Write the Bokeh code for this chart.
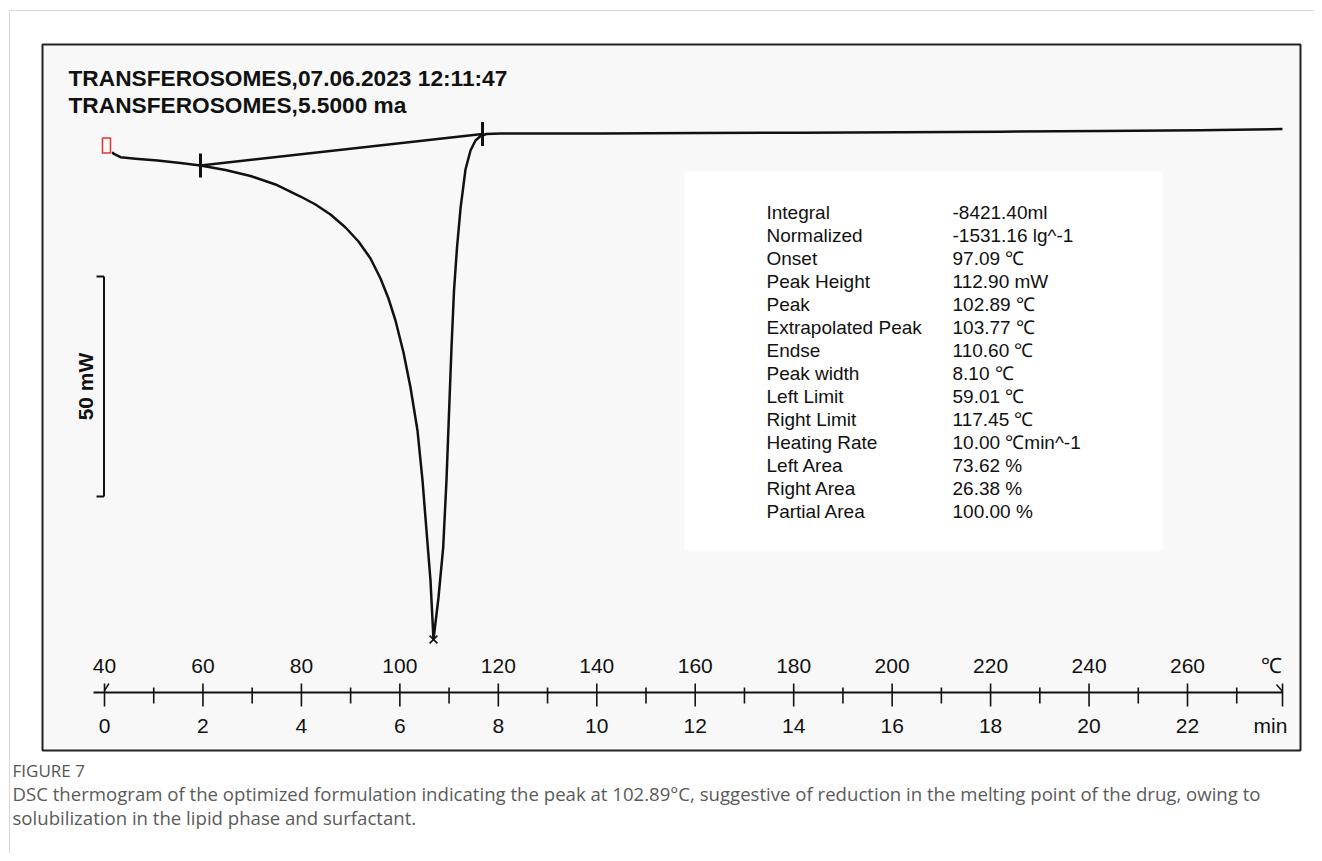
import math
from bokeh.plotting import figure
from bokeh.core.properties import value
from bokeh.embed import file_html
from bokeh.resources import INLINE

# ---------------- data ----------------
temp_c = [41.56, 41.83, 43.25, 46.30, 50.77, 55.44, 59.50, 64.58, 69.66, 74.74,
          79.82, 82.86, 85.91, 88.96, 91.60, 94.04, 96.07, 97.69, 99.11, 100.74,
          102.16, 103.58, 104.60, 105.41, 106.22, 106.83, 107.85, 108.80, 109.47, 109.98,
          110.49, 111.00, 111.61, 112.32, 113.33, 114.35, 115.37, 116.38, 117.60, 120.44,
          140.76, 161.07, 181.39, 201.70, 222.02, 242.33, 262.64, 279.30]
heat_flow_mw = [-4.25, -4.55, -5.39, -5.73, -6.14, -6.70, -7.27, -8.30, -9.66, -11.59,
                -14.32, -16.14, -18.41, -21.36, -24.55, -28.41, -32.95, -37.50, -42.50, -49.77,
                -57.73, -67.50, -78.86, -90.23, -101.59, -115.00, -105.45, -94.09, -78.86, -63.64,
                -48.64, -35.68, -25.91, -17.05, -8.18, -3.86, -1.59, -0.57, -0.11, 0.00,
                0.00, 0.11, 0.18, 0.27, 0.41, 0.57, 0.75, 1.02]

limit_temp_c = [59.50, 116.79]
limit_mw = [-7.27, -0.11]
peak_temp_c = [106.83]
peak_mw = [-115.00]
start_temp_c = [40.4]
start_mw = [-2.73]

scale_bar_mw = 50
scale_bar_top_mw = -32.5

major_ticks_c = [40, 60, 80, 100, 120, 140, 160, 180, 200, 220, 240, 260]
temp_labels = ["40", "60", "80", "100", "120", "140", "160", "180", "200", "220", "240", "260"]
minor_ticks_c = [50, 70, 90, 110, 130, 150, 170, 190, 210, 230, 250, 270]
time_labels = ["0", "2", "4", "6", "8", "10", "12", "14", "16", "18", "20", "22"]
axis_end_c = 279.3

title_lines = ["TRANSFEROSOMES,07.06.2023 12:11:47", "TRANSFEROSOMES,5.5000 ma"]
table_names = ["Integral", "Normalized", "Onset", "Peak Height", "Peak", "Extrapolated Peak",
               "Endse", "Peak width", "Left Limit", "Right Limit", "Heating Rate",
               "Left Area", "Right Area", "Partial Area"]
table_values = ["-8421.40ml", "-1531.16 lg^-1", "97.09 ℃", "112.90 mW", "102.89 ℃",
                "103.77 ℃", "110.60 ℃", "8.10 ℃", "59.01 ℃", "117.45 ℃",
                "10.00 ℃min^-1", "73.62 %", "26.38 %", "100.00 %"]
caption_head = "FIGURE 7"
caption_lines = ["DSC thermogram of the optimized formulation indicating the peak at 102.89°C, suggestive of reduction in the melting point of the drug, owing to",
                 "solubilization in the lipid phase and surfactant."]

# ---------------- layout helpers (page pixels -> data) ----------------
W, H = 1314, 853
PX_PER_C = 1083 / 220.0
PX_PER_MW = 4.4


def dx(page_x):
    return 40 + (page_x - 104) / PX_PER_C


def dy(page_y):
    return (133 - page_y) / PX_PER_MW


p = figure(width=W, height=H, x_range=(dx(0), dx(W)), y_range=(dy(H), dy(0)),
           output_backend="svg", toolbar_location=None, min_border=0,
           x_axis_location=None, y_axis_location=None)
p.grid.visible = False
p.outline_line_color = None
p.background_fill_color = "white"
p.border_fill_color = "white"

ARIAL = value("Liberation Sans")
OPEN = value("Open Sans")
INK = "#111111"

# outer light container border
p.segment(x0=[dx(9), dx(9)], y0=[dy(10), dy(10)], x1=[dx(9), dx(1330)], y1=[dy(900), dy(10)],
          line_color="#d8d8d8", line_width=1)

# inner box
p.quad(left=[dx(42)], right=[dx(1300)], top=[dy(44)], bottom=[dy(750)],
       fill_color="#f8f8f8", line_color="#222222", line_width=2)

# results table background
p.quad(left=[dx(684)], right=[dx(1162)], top=[dy(171)], bottom=[dy(550)],
       fill_color="white", line_color=None)

# titles
p.text(x=[dx(68), dx(68)], y=[dy(77.3), dy(104.3)], text=title_lines,
       text_font=ARIAL, text_font_size="22.7px", text_font_style="bold",
       text_color=INK, text_baseline="alphabetic", text_align="left")

# scale bar
sb_x = dx(103.5)
sb_bot = scale_bar_top_mw - scale_bar_mw
p.segment(x0=[sb_x, dx(96), dx(96)], y0=[scale_bar_top_mw, scale_bar_top_mw, sb_bot],
          x1=[sb_x, sb_x, sb_x], y1=[sb_bot, scale_bar_top_mw, sb_bot],
          line_color=INK, line_width=2)
p.text(x=[dx(85)], y=[(scale_bar_top_mw + sb_bot) / 2], text=[f"{scale_bar_mw} mW"],
       angle=math.pi / 2, text_font=ARIAL, text_font_size="21px", text_font_style="bold",
       text_color=INK, text_baseline="middle", text_align="center")

# DSC curve
p.line(temp_c, heat_flow_mw, line_color=INK, line_width=2.5, line_join="round")
# integration baseline
p.line(limit_temp_c, limit_mw, line_color=INK, line_width=2.5)
# limit markers
mark_h = 12 / PX_PER_MW
p.segment(x0=limit_temp_c, y0=[m + mark_h for m in limit_mw],
          x1=limit_temp_c, y1=[m - mark_h for m in limit_mw],
          line_color=INK, line_width=3)
# peak marker
p.scatter(peak_temp_c, peak_mw, marker="x", size=11, line_color=INK, line_width=1.6)
# start marker
p.rect(x=start_temp_c, y=start_mw, width=8, height=15, width_units="screen",
       height_units="screen", fill_color=None, line_color="#e8302e", line_width=1.5)

# ruler axis
ax_y = dy(692)
p.segment(x0=[dx(93)], y0=[ax_y], x1=[axis_end_c], y1=[ax_y], line_color=INK, line_width=2)
p.segment(x0=major_ticks_c + [axis_end_c], y0=[dy(683)] * (len(major_ticks_c) + 1),
          x1=major_ticks_c + [axis_end_c], y1=[dy(706)] * (len(major_ticks_c) + 1),
          line_color=INK, line_width=1.6)
p.segment(x0=minor_ticks_c, y0=[dy(687)] * len(minor_ticks_c),
          x1=minor_ticks_c, y1=[dy(703)] * len(minor_ticks_c),
          line_color=INK, line_width=1.6)
# small start/end hooks
p.segment(x0=[major_ticks_c[0], axis_end_c], y0=[dy(690), dy(691)],
          x1=[dx(108.5), dx(1276)], y1=[dy(683), dy(684)],
          line_color=INK, line_width=1.4)
p.text(x=major_ticks_c, y=[dy(665)] * len(major_ticks_c), text=temp_labels,
       text_font=ARIAL, text_font_size="21px", text_color=INK,
       text_baseline="middle", text_align="center")
p.text(x=major_ticks_c, y=[dy(725)] * len(major_ticks_c), text=time_labels,
       text_font=ARIAL, text_font_size="21px", text_color=INK,
       text_baseline="middle", text_align="center")
p.text(x=[dx(1271)], y=[dy(665)], text=["℃"], text_font=ARIAL, text_font_size="21px",
       text_color=INK, text_baseline="middle", text_align="center")
p.text(x=[dx(1270)], y=[dy(725)], text=["min"], text_font=ARIAL, text_font_size="21px",
       text_color=INK, text_baseline="middle", text_align="center")

# results table
row_y = [dy(211.7 + 23.02 * i) for i in range(len(table_names))]
p.text(x=[dx(766)] * len(table_names), y=row_y, text=table_names, text_font=ARIAL,
       text_font_size="19px", text_color=INK, text_baseline="alphabetic", text_align="left")
p.text(x=[dx(952)] * len(table_values), y=row_y, text=table_values, text_font=ARIAL,
       text_font_size="19px", text_color=INK, text_baseline="alphabetic", text_align="left")

# caption
p.text(x=[dx(12)], y=[dy(770)], text=[caption_head], text_font=OPEN, text_font_size="17px",
       text_color="#555555", text_baseline="middle", text_align="left")
p.text(x=[dx(12)] * 2, y=[dy(793), dy(817)], text=caption_lines, text_font=OPEN,
       text_font_size="18.6px", text_color="#5a5a5a", text_baseline="middle", text_align="left")

open("out.html", "w").write(file_html(p, INLINE))
